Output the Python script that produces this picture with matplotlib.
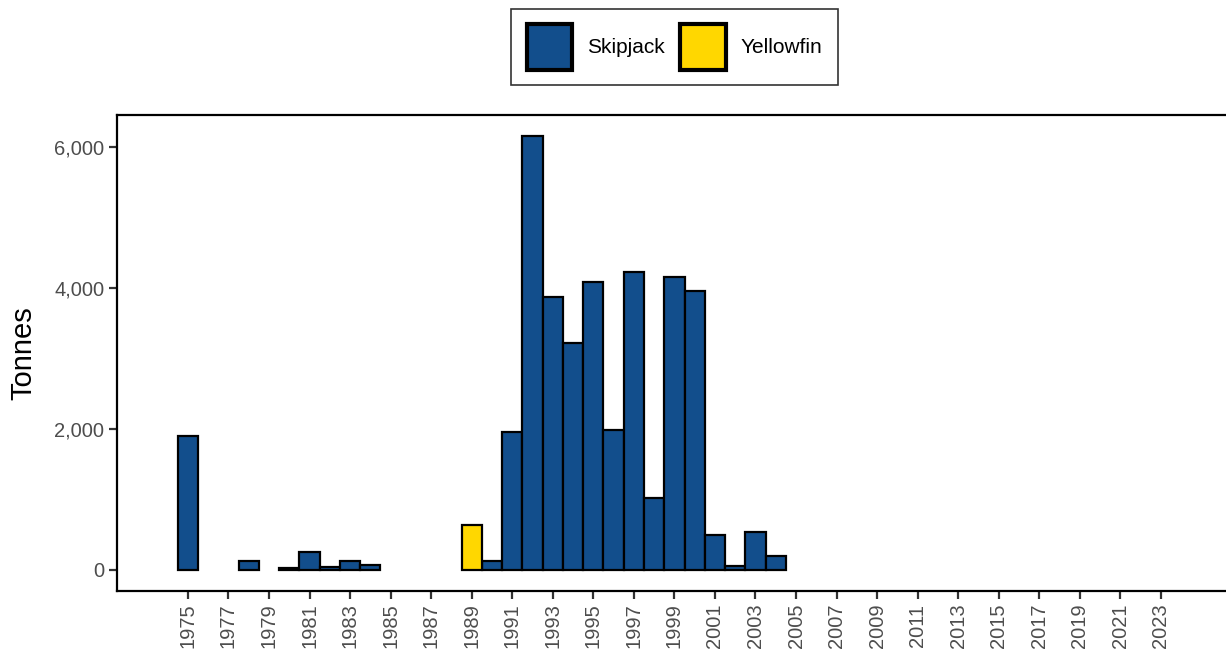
import numpy as np
import matplotlib.pyplot as plt
from matplotlib.patches import Patch
from matplotlib.ticker import FuncFormatter

plt.rcParams['font.family'] = ['Liberation Sans', 'DejaVu Sans']

years = list(range(1975, 2025))
skipjack = {1975: 1900, 1978: 120, 1980: 20, 1981: 250, 1982: 40, 1983: 120, 1984: 70,
            1990: 120, 1991: 1960, 1992: 6160, 1993: 3870, 1994: 3220, 1995: 4090,
            1996: 1990, 1997: 4230, 1998: 1020, 1999: 4160, 2000: 3960, 2001: 500,
            2002: 50, 2003: 540, 2004: 190}
yellowfin = {1989: 630}

skj = np.array([skipjack.get(y, 0) for y in years])
yft = np.array([yellowfin.get(y, 0) for y in years])

col_skj = '#124E8C'
col_yft = '#FFD700'

fig = plt.figure(figsize=(12.26, 6.54), dpi=100)
ax = fig.add_axes([0.0954, 0.0963, 0.9176, 0.7278])

yrs = np.array(years)
m_skj = skj > 0
ax.bar(yrs[m_skj], skj[m_skj], width=1.0, color=col_skj, edgecolor='black', linewidth=1.6)
m_yft = yft > 0
ax.bar(yrs[m_yft], yft[m_yft], bottom=skj[m_yft], width=1.0, color=col_yft,
       edgecolor='black', linewidth=1.6)

ax.set_xlim(1971.5, 2027)
ax.set_ylim(-300, 6455)
ax.set_xticks(list(range(1975, 2025, 2)))
ax.set_yticks([0, 2000, 4000, 6000])
ax.yaxis.set_major_formatter(FuncFormatter(lambda v, p: f'{int(v):,}'))
ax.tick_params(axis='x', rotation=90, labelsize=14.5, labelcolor='#4d4d4d', colors='#333333',
               length=6, width=1.6, pad=3)
ax.tick_params(axis='y', labelsize=14.5, labelcolor='#4d4d4d', colors='#333333',
               length=6, width=1.6, pad=3)
for sp in ax.spines.values():
    sp.set_linewidth(1.6)
    sp.set_color('black')

ax.set_ylabel('Tonnes', fontsize=21, labelpad=12)

handles = [Patch(facecolor=col_skj, edgecolor='black', linewidth=3, label='Skipjack'),
           Patch(facecolor=col_yft, edgecolor='black', linewidth=3, label='Yellowfin')]
leg = fig.legend(handles=handles, loc='upper center', bbox_to_anchor=(0.5502, 0.987), ncol=2,
                 fontsize=15, frameon=True, fancybox=False, edgecolor='black',
                 handlelength=2.2, handleheight=3.0, handletextpad=0.7, columnspacing=0.75,
                 borderpad=0.75, borderaxespad=0)
leg.get_frame().set_linewidth(1.2)

fig.savefig('out.png', dpi=100)
